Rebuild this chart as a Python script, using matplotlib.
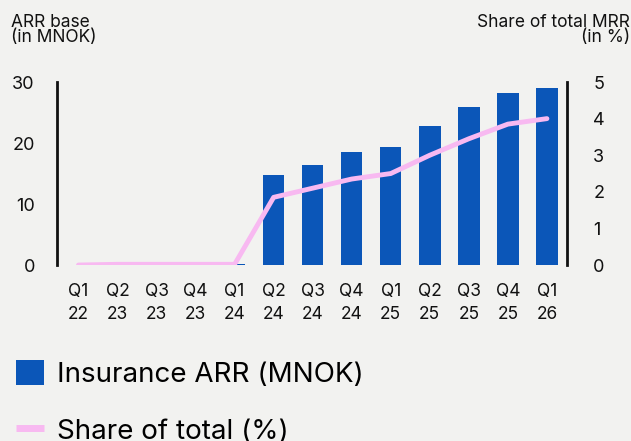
import matplotlib.pyplot as plt
from matplotlib.patches import Patch
from matplotlib.lines import Line2D

quarters = ['Q1\n22', 'Q2\n23', 'Q3\n23', 'Q4\n23', 'Q1\n24', 'Q2\n24', 'Q3\n24',
            'Q4\n24', 'Q1\n25', 'Q2\n25', 'Q3\n25', 'Q4\n25', 'Q1\n26']
arr_mnok = [0, 0, 0, 0, 0.15, 14.8, 16.4, 18.5, 19.3, 22.8, 25.9, 28.2, 29.0]
share_pct = [0, 0.02, 0.02, 0.02, 0.02, 1.85, 2.1, 2.35, 2.5, 3.0, 3.45, 3.85, 4.0]
left_ticks = [0, 10, 20, 30]
right_ticks = [0, 1, 2, 3, 4, 5]

BLUE = '#0B56B8'
PINK = '#F8B9F1'
BG = '#F2F2F0'

plt.rcParams['font.family'] = ['Inter', 'DejaVu Sans']

fig = plt.figure(figsize=(6.31, 4.41), dpi=100, facecolor=BG)
ax = fig.add_axes([0.0903, 0.399, 0.808, 0.415])
ax.set_facecolor('none')

x = list(range(len(quarters)))
ax.bar(x, arr_mnok, width=0.55, color=BLUE)
ax.set_xlim(-0.55, len(quarters) - 1 + 0.51)
ax.set_ylim(0, 30)
ax.set_yticks(left_ticks)
ax.set_xticks(x)
ax.set_xticklabels(quarters, linespacing=1.45)
ax.tick_params(axis='y', length=0, pad=16, labelsize=13, labelcolor='#111111')
ax.tick_params(axis='x', length=0, pad=13, labelsize=12.5, labelcolor='#111111')
for s in ['top', 'bottom', 'right']:
  ax.spines[s].set_visible(False)
ax.spines['left'].set_linewidth(2)
ax.spines['left'].set_color('#111111')

# share of total on the right axis
ax2 = ax.twinx()
ax2.plot(x, share_pct, color=PINK, linewidth=3.5, solid_capstyle='round')
ax2.set_ylim(0, 5)
ax2.set_yticks(right_ticks)
ax2.tick_params(axis='y', length=0, pad=19, labelsize=13, labelcolor='#111111')
for s in ['top', 'bottom', 'left']:
  ax2.spines[s].set_visible(False)
ax2.spines['right'].set_linewidth(2)
ax2.spines['right'].set_color('#111111')

fig.text(0.018, 0.968, 'ARR base\n(in MNOK)', fontsize=12.5, ha='left', va='top',
         linespacing=0.8, color='#111111')
fig.text(0.999, 0.968, 'Share of total MRR\n(in %)', fontsize=12.5, ha='right', va='top',
         linespacing=0.8, color='#111111', multialignment='right')

handles = [Patch(facecolor=BLUE, edgecolor='none'),
           Line2D([0], [0], color=PINK, linewidth=5, solid_capstyle='butt')]
fig.legend(handles, ['Insurance ARR (MNOK)', 'Share of total (%)'],
           loc='upper left', bbox_to_anchor=(0.025, 0.183), frameon=False,
           fontsize=20, handlelength=1.0, handleheight=1.0, handletextpad=0.5,
           labelspacing=1.05, borderpad=0, borderaxespad=0)

fig.savefig('out.png', dpi=100, facecolor=BG)
